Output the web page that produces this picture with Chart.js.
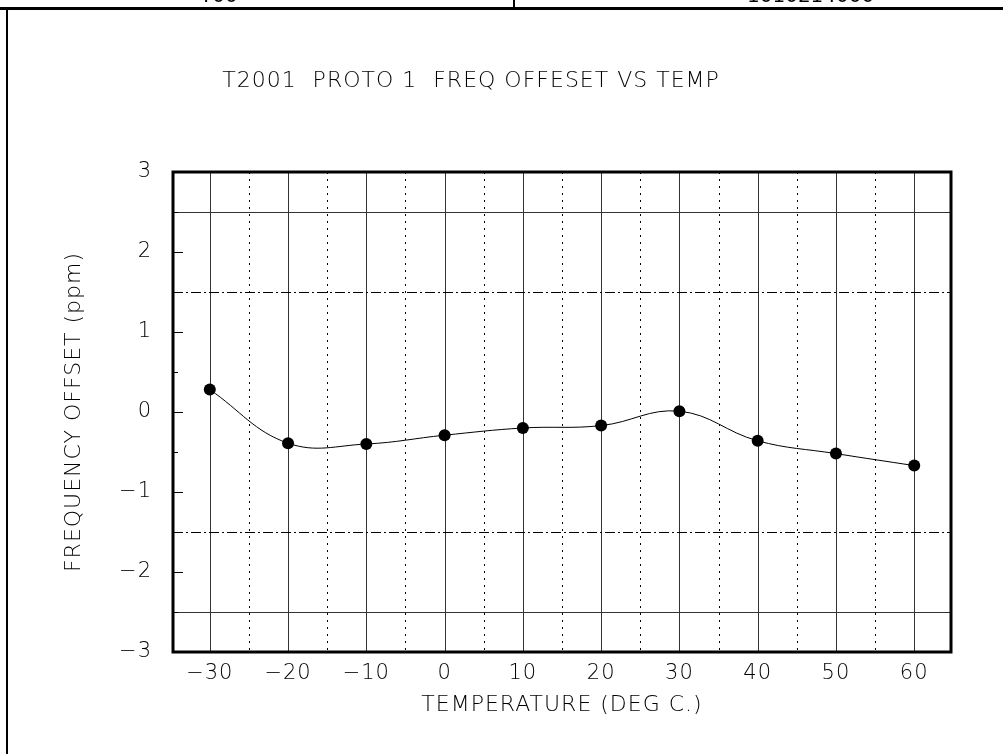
<!DOCTYPE html>
<html>
<head>
<meta charset="utf-8">
<title>T2001 PROTO 1 FREQ OFFESET VS TEMP</title>
<script src="https://cdn.jsdelivr.net/npm/chart.js@4.4.1/dist/chart.umd.min.js"></script>
<style>
  html, body { margin: 0; padding: 0; background: #fff; overflow: hidden; }
  #sheet { position: relative; width: 1003px; height: 754px; }
  #plot { position: absolute; left: 0; top: 0; }
  .rule { position: absolute; background: #000; }
  .head { position: absolute; font-family: "DejaVu Sans", sans-serif; font-size: 20px; color: #000; line-height: 20px; }
  #title { position: absolute; left: 471px; top: 67px; transform: translateX(-50%);
           font-family: "DejaVu Sans", sans-serif; font-weight: 200; font-size: 22px;
           letter-spacing: 1px; white-space: pre; color: #000; }
</style>
</head>
<body>
<div id="sheet">
  <canvas id="plot" width="1003" height="754"></canvas>
  <!-- title block strip along the top edge -->
  <div class="head" style="left:200px; top:-15px;">T00</div>
  <div class="head" style="left:747px; top:-15px;">1010214000</div>
  <div class="rule" style="left:0; top:7px; width:1003px; height:3px;"></div>
  <div class="rule" style="left:513px; top:0; width:2px; height:8px;"></div>
  <div class="rule" style="left:6px; top:8px; width:2px; height:746px;"></div>
  <div id="title">T2001  PROTO 1  FREQ OFFESET VS TEMP</div>
</div>

<script>
// Measured frequency offset at each test temperature
const temps = [-30, -20, -10, 0, 10, 20, 30, 40, 50, 60];
const offsetPpm = [0.28, -0.39, -0.40, -0.29, -0.20, -0.17, 0.01, -0.36, -0.52, -0.67];

// Axis ticks and grid
const xTickValues = [-30, -20, -10, 0, 10, 20, 30, 40, 50, 60];
const xGridValues = [-30, -25, -20, -15, -10, -5, 0, 5, 10, 15, 20, 25, 30, 35, 40, 45, 50, 55, 60];
const yTickValues = [-3, -2, -1, 0, 1, 2, 3];
const yMinorValues = [-2.5, -1.5, -0.5, 0.5, 1.5, 2.5];

// Limit lines: outer (solid) and inner (dash-dot)
const outerLimits = [2.5, -2.5];
const innerLimits = [1.5, -1.5];

const plotFont = "DejaVu Sans";

function minusSign(v) {
    return v < 0 ? "\u2212" + Math.abs(v) : String(v);
}

// Draws grid, limit lines, inside tick marks and the heavy frame
const plotGrid = {
    id: 'plotGrid',
    beforeDraw(chart) {
        // slightly open lettering for ticks and axis titles
        chart.ctx.letterSpacing = '1px';
    },
    beforeDatasetsDraw(chart) {
        const { ctx, chartArea: a, scales: { x, y } } = chart;
        ctx.save();
        ctx.lineWidth = 1;

        // vertical grid: solid every 10, dotted at the fives
        xGridValues.forEach(v => {
            const px = Math.round(x.getPixelForValue(v)) + 0.5;
            ctx.beginPath();
            if (v % 10 === 0) {
                ctx.strokeStyle = '#333';
                ctx.setLineDash([]);
            } else {
                ctx.strokeStyle = '#000';
                ctx.setLineDash([2, 5]);
            }
            ctx.moveTo(px, a.top);
            ctx.lineTo(px, a.bottom);
            ctx.stroke();
        });

        // limit lines
        outerLimits.forEach(v => {
            const py = Math.round(y.getPixelForValue(v)) + 0.5;
            ctx.strokeStyle = '#333';
            ctx.setLineDash([]);
            ctx.beginPath();
            ctx.moveTo(a.left, py);
            ctx.lineTo(a.right, py);
            ctx.stroke();
        });
        innerLimits.forEach(v => {
            const py = Math.round(y.getPixelForValue(v)) + 0.5;
            ctx.strokeStyle = '#000';
            ctx.setLineDash([10, 3, 2, 3]);
            ctx.beginPath();
            ctx.moveTo(a.left, py);
            ctx.lineTo(a.right, py);
            ctx.stroke();
        });

        // tick marks inside the left edge
        ctx.setLineDash([]);
        ctx.strokeStyle = '#000';
        yTickValues.concat(yMinorValues).forEach(v => {
            const py = Math.round(y.getPixelForValue(v)) + 0.5;
            const len = Number.isInteger(v) ? 10 : 5;
            ctx.beginPath();
            ctx.moveTo(a.left, py);
            ctx.lineTo(a.left + len, py);
            ctx.stroke();
        });
        ctx.restore();
    },
    afterDatasetsDraw(chart) {
        const { ctx, chartArea: a } = chart;
        ctx.save();
        ctx.strokeStyle = '#000';
        ctx.lineWidth = 3;
        ctx.strokeRect(a.left, a.top, a.right - a.left, a.bottom - a.top);
        ctx.restore();
    }
};

const chart = new Chart(document.getElementById('plot'), {
    type: 'line',
    data: {
        datasets: [{
            data: temps.map((t, i) => ({ x: t, y: offsetPpm[i] })),
            borderColor: '#000',
            borderWidth: 1,
            backgroundColor: '#000',
            pointRadius: 6,
            pointHoverRadius: 6,
            pointBackgroundColor: '#000',
            pointBorderWidth: 0,
            tension: 0.4,
            fill: false
        }]
    },
    options: {
        responsive: false,
        animation: false,
        events: [],
        layout: { padding: { top: 172, right: 52, left: 0, bottom: 0 } },
        plugins: {
            legend: { display: false },
            tooltip: { enabled: false }
        },
        scales: {
            x: {
                type: 'linear',
                min: -34.7,
                max: 64.7,
                afterBuildTicks: s => { s.ticks = xTickValues.map(v => ({ value: v })); },
                afterFit: s => { s.height = 102; },
                grid: { display: false },
                border: { display: false },
                ticks: {
                    color: '#000',
                    padding: 1,
                    maxRotation: 0,
                    font: { family: plotFont, size: 21, weight: 200 },
                    callback: v => minusSign(v)
                },
                title: {
                    display: true,
                    text: 'TEMPERATURE (DEG C.)',
                    color: '#000',
                    font: { family: plotFont, size: 22, weight: 200 },
                    padding: { top: 0, bottom: 36 }
                }
            },
            y: {
                min: -3,
                max: 3,
                afterBuildTicks: s => { s.ticks = yTickValues.map(v => ({ value: v })); },
                afterFit: s => { s.width = 173; },
                grid: { display: false },
                border: { display: false },
                ticks: {
                    color: '#000',
                    padding: 13,
                    font: { family: plotFont, size: 21, weight: 200 },
                    callback: v => minusSign(v)
                },
                title: {
                    display: true,
                    text: 'FREQUENCY OFFSET (ppm)',
                    color: '#000',
                    font: { family: plotFont, size: 22, weight: 200 },
                    padding: { top: 61, bottom: 0 }
                }
            }
        }
    },
    plugins: [plotGrid]
});
</script>
</body>
</html>
